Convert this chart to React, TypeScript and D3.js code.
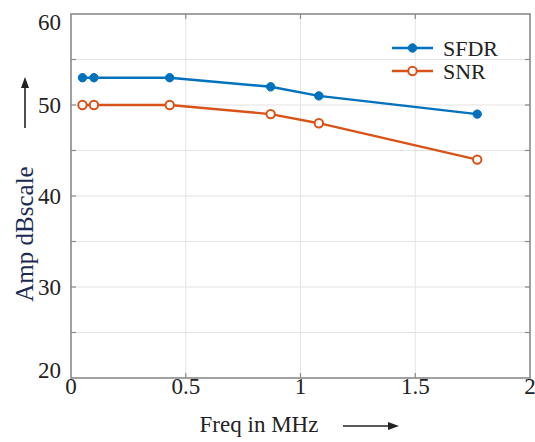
import React, { useEffect, useRef } from "react";
import * as d3 from "d3";

// frequencies in MHz
const freq = [0.05, 0.1, 0.43, 0.87, 1.08, 1.77];
const sfdr = [53, 53, 53, 52, 51, 49];
const snr = [50, 50, 50, 49, 48, 44];

const xTicks = [0, 0.5, 1, 1.5, 2];
const yTicks = [20, 25, 30, 35, 40, 45, 50, 55, 60];
const yLabels = [20, 30, 40, 50, 60];

const series = [
  { name: "SFDR", values: sfdr, color: "#0072BD", filled: true },
  { name: "SNR", values: snr, color: "#D95319", filled: false },
];

const W = 535, H = 442;
const FONT = "Liberation Serif, Times New Roman, Times, serif";

export default function App() {
  const ref = useRef<SVGSVGElement>(null);

  useEffect(() => {
    const svg = d3.select(ref.current);
    svg.selectAll("*").remove();

    const x = d3.scaleLinear().domain([0, 2]).range([71, 530]);
    const y = d3.scaleLinear().domain([20, 60]).range([378, 14]);

    svg.append("rect").attr("width", W).attr("height", H).attr("fill", "#fff");

    // grid
    const grid = svg.append("g").attr("stroke", "#e3e3e3").attr("stroke-width", 1);
    grid.selectAll("xg").data(xTicks.slice(1, -1)).enter().append("line")
      .attr("x1", d => x(d)).attr("x2", d => x(d))
      .attr("y1", y(20)).attr("y2", y(60));
    grid.selectAll("yg").data(yTicks.slice(1, -1)).enter().append("line")
      .attr("x1", x(0)).attr("x2", x(2))
      .attr("y1", d => y(d)).attr("y2", d => y(d));

    // frame + inward ticks
    const axisCol = "#8a8a8a";
    svg.append("rect")
      .attr("x", x(0)).attr("y", y(60))
      .attr("width", x(2) - x(0)).attr("height", y(20) - y(60))
      .attr("fill", "none").attr("stroke", axisCol).attr("stroke-width", 1.6);
    const tk = svg.append("g").attr("stroke", axisCol).attr("stroke-width", 1.2);
    xTicks.slice(1, -1).forEach(d => {
      tk.append("line").attr("x1", x(d)).attr("x2", x(d)).attr("y1", y(20)).attr("y2", y(20) - 5);
      tk.append("line").attr("x1", x(d)).attr("x2", x(d)).attr("y1", y(60)).attr("y2", y(60) + 5);
    });
    yTicks.slice(1, -1).forEach(d => {
      tk.append("line").attr("x1", x(0)).attr("x2", x(0) + 5).attr("y1", y(d)).attr("y2", y(d));
      tk.append("line").attr("x1", x(2)).attr("x2", x(2) - 5).attr("y1", y(d)).attr("y2", y(d));
    });

    // tick labels
    svg.append("g").selectAll("text").data(xTicks).enter().append("text")
      .attr("x", d => x(d)).attr("y", 394)
      .attr("text-anchor", "middle")
      .style("font-family", FONT).attr("font-size", 23).attr("fill", "#222")
      .text(d => String(d));
    svg.append("g").selectAll("text").data(yLabels).enter().append("text")
      .attr("x", 61).attr("y", d => y(d) + (d === 60 ? 8 : d === 20 ? -8 : 0))
      .attr("dy", "0.35em")
      .attr("text-anchor", "end")
      .style("font-family", FONT).attr("font-size", 23).attr("fill", "#222")
      .text(d => String(d));

    // axis titles and arrows
    svg.append("text")
      .attr("transform", "translate(33,234) rotate(-90)")
      .attr("text-anchor", "middle")
      .style("font-family", FONT).attr("font-size", 25).attr("fill", "#1b2a52")
      .text("Amp dBscale");
    svg.append("text")
      .attr("x", 259).attr("y", 432)
      .attr("text-anchor", "middle")
      .style("font-family", FONT).attr("font-size", 23).attr("fill", "#222")
      .text("Freq in MHz");

    svg.append("line").attr("x1", 25).attr("x2", 25).attr("y1", 128).attr("y2", 86)
      .attr("stroke", "#222").attr("stroke-width", 1.6);
    svg.append("path").attr("d", "M25,77 L21,88 L29,88 Z").attr("fill", "#222");
    svg.append("line").attr("x1", 343).attr("x2", 390).attr("y1", 426).attr("y2", 426)
      .attr("stroke", "#222").attr("stroke-width", 1.6);
    svg.append("path").attr("d", "M399,426 L388,422 L388,430 Z").attr("fill", "#222");

    // series
    const line = d3.line<number>().x((_, i) => x(freq[i])).y(v => y(v));
    series.forEach(s => {
      svg.append("path").datum(s.values).attr("d", line)
        .attr("fill", "none").attr("stroke", s.color).attr("stroke-width", 2.4);
      svg.append("g").selectAll("circle").data(s.values).enter().append("circle")
        .attr("cx", (_, i) => x(freq[i])).attr("cy", v => y(v))
        .attr("r", 4.2)
        .attr("fill", s.filled ? s.color : "#fff")
        .attr("stroke", s.color).attr("stroke-width", s.filled ? 1 : 2);
    });

    // legend
    const lg = svg.append("g");
    series.forEach((s, i) => {
      const ly = 48 + i * 23;
      lg.append("line").attr("x1", 392).attr("x2", 433).attr("y1", ly).attr("y2", ly)
        .attr("stroke", s.color).attr("stroke-width", 2.4);
      lg.append("circle").attr("cx", 412.5).attr("cy", ly).attr("r", 4.2)
        .attr("fill", s.filled ? s.color : "#fff")
        .attr("stroke", s.color).attr("stroke-width", s.filled ? 1 : 2);
      lg.append("text").attr("x", 443).attr("y", ly).attr("dy", "0.35em")
        .style("font-family", FONT).attr("font-size", 22).attr("fill", "#222")
        .text(s.name);
    });
  }, []);

  return (
    <svg ref={ref} width={W} height={H}
      style={{ position: "absolute", left: 0, top: 0, display: "block" }} />
  );
}
